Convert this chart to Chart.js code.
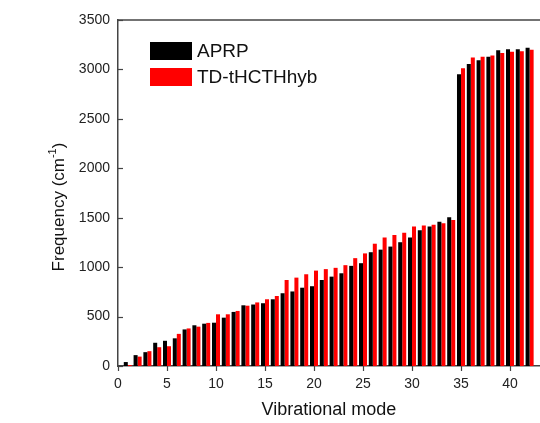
<!DOCTYPE html>
<html>
<head>
<meta charset="utf-8">
<script src="https://cdn.jsdelivr.net/npm/chart.js@4"></script>
<style>
  html, body { margin: 0; padding: 0; background: #fff; }
  #wrap { width: 540px; height: 423px; }
</style>
</head>
<body>
<div id="wrap"><canvas id="chart"></canvas></div>
<script>
// ===== Dữ liệu =====
const modes = [1,2,3,4,5,6,7,8,9,10,11,12,13,14,15,16,17,18,19,20,21,
               22,23,24,25,26,27,28,29,30,31,32,33,34,35,36,37,38,39,40,41,42];
const aprp = [40,110,140,235,255,280,370,412,428,438,489,547,614,622,635,675,736,754,792,807,870,
              904,938,1013,1040,1151,1177,1208,1252,1299,1373,1410,1460,1505,2952,3054,3094,3128,3195,3205,3205,3219];
const tdHyb = [10,95,150,190,200,325,380,398,436,523,523,557,610,643,675,708,870,894,928,965,980,
               993,1020,1091,1139,1237,1299,1326,1349,1410,1420,1430,1444,1478,3013,3120,3128,3141,3165,3178,3185,3199];
const yTicks = [0,500,1000,1500,2000,2500,3000,3500];
const xTicks = [0,5,10,15,20,25,30,35,40];

const FONT = "'Liberation Sans', Arial, sans-serif";
const AXIS = "#444";

function toPoints(vals) {
    return modes.map((m, i) => ({ x: m, y: vals[i] }));
}

// vẽ khung trên, tick trục, legend, tiêu đề trục y
const decor = {
    id: "decor",
    afterDraw(chart) {
        const ctx = chart.ctx;
        const a = chart.chartArea;
        const ys = chart.scales.y;
        const xs = chart.scales.x;
        ctx.save();
        ctx.strokeStyle = AXIS;
        ctx.lineWidth = 1.5;
        ctx.beginPath();
        ctx.moveTo(a.left, a.top);
        ctx.lineTo(a.right, a.top);
        ctx.stroke();
        // tick trục y (hướng vào trong)
        ctx.lineWidth = 1.2;
        yTicks.forEach(v => {
            const p = Math.round(ys.getPixelForValue(v)) + 0.5;
            ctx.beginPath();
            ctx.moveTo(a.left, p);
            ctx.lineTo(a.left + 5, p);
            ctx.stroke();
        });
        // tick trục x (hướng ra ngoài)
        xTicks.forEach(v => {
            const p = Math.round(xs.getPixelForValue(v)) + 0.5;
            ctx.beginPath();
            ctx.moveTo(p, a.bottom);
            ctx.lineTo(p, a.bottom + 5);
            ctx.stroke();
        });
        // legend
        const items = chart.data.datasets;
        ctx.font = "19px " + FONT;
        ctx.textBaseline = "middle";
        items.forEach((ds, i) => {
            const top = 42 + i * 26;
            ctx.fillStyle = ds.backgroundColor;
            ctx.fillRect(150, top, 42, 18);
            ctx.fillStyle = "#111";
            ctx.fillText(ds.label, 197, top + 10);
        });
        // tiêu đề trục y với chỉ số trên
        ctx.translate(63.5, 207);
        ctx.rotate(-Math.PI / 2);
        ctx.textBaseline = "alphabetic";
        ctx.fillStyle = "#111";
        const big = "17px " + FONT, small = "11px " + FONT;
        const parts = [["Frequency (cm", big, 0], ["-1", small, -8], [")", big, 0]];
        let total = 0;
        parts.forEach(p => { ctx.font = p[1]; total += ctx.measureText(p[0]).width; });
        let x = -total / 2;
        parts.forEach(p => {
            ctx.font = p[1];
            ctx.fillText(p[0], x, p[2]);
            x += ctx.measureText(p[0]).width;
        });
        ctx.restore();
    }
};

new Chart(document.getElementById("chart"), {
    type: "bar",
    data: {
        datasets: [
            { label: "APRP", data: toPoints(aprp), backgroundColor: "#000000" },
            { label: "TD-tHCTHhyb", data: toPoints(tdHyb), backgroundColor: "#ff0000" }
        ]
    },
    options: {
        responsive: true,
        maintainAspectRatio: false,
        animation: false,
        categoryPercentage: 0.82,
        barPercentage: 1.0,
        layout: { padding: { top: 20, left: 0, right: 0, bottom: 0 } },
        plugins: {
            legend: { display: false },
            tooltip: { enabled: false }
        },
        scales: {
            x: {
                type: "linear",
                min: 0,
                max: 43.06,
                offset: false,
                afterBuildTicks: s => { s.ticks = xTicks.map(v => ({ value: v })); },
                afterFit: s => { s.height = 57; },
                grid: { display: false },
                border: { display: true, color: AXIS, width: 1.5 },
                ticks: { font: { size: 14, family: FONT }, color: "#222", padding: 2, maxRotation: 0,
                         callback: v => String(v) },
                title: {
                    display: true,
                    text: "Vibrational mode",
                    font: { size: 18, family: FONT },
                    color: "#111",
                    padding: { top: 0, bottom: 2 }
                }
            },
            y: {
                min: 0,
                max: 3500,
                afterBuildTicks: s => { s.ticks = yTicks.map(v => ({ value: v })); },
                afterFit: s => { s.width = 118; },
                grid: { display: false },
                border: { display: true, color: AXIS, width: 1.5 },
                ticks: { font: { size: 14, family: FONT }, color: "#222", padding: 0,
                         callback: v => String(v) }
            }
        }
    },
    plugins: [decor]
});
</script>
</body>
</html>
